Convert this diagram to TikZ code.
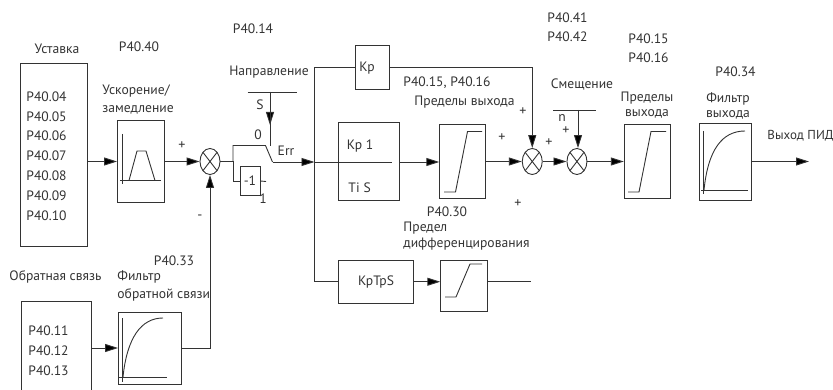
\documentclass[tikz,border=0pt]{standalone}
\usepackage{fontspec}
\setmainfont{PT Sans}
\usepackage{tikz}
\usetikzlibrary{positioning,arrows.meta,calc,shapes.geometric}
\usepackage{xcolor}

\begin{document}
\begin{tikzpicture}[
    x=1pt, y=-1pt, on grid, >={Stealth[length=13pt,width=8pt,inset=0pt,fill=black]},
    line width=0.9pt, color=black!80, font=\fontsize{13.6}{14}\selectfont,
    blockbox/.style={draw, minimum width=#1, inner sep=0pt},
    sumnode/.style={draw, ellipse, minimum width=20pt, minimum height=26pt, inner sep=0pt,
      path picture={
        \draw (path picture bounding box.north west) -- (path picture bounding box.south east);
        \draw (path picture bounding box.north east) -- (path picture bounding box.south west);}},
    lbl/.style={anchor=west, inner sep=0pt},
    lblc/.style={inner sep=0pt},
    sign/.style={inner sep=0pt, font=\fontsize{14}{14}\selectfont}]
  \useasboundingbox (0,0) rectangle (833,390);
  % main row
  \node[sumnode] (sum1) at (210,161.5) {};
  \node[blockbox=47pt, minimum height=82.5pt, left=69pt of sum1] (acc) {};
  \node[blockbox=67pt, minimum height=183pt, left=87pt of acc, yshift=7pt] (sp) {};
  \node[blockbox=61.5pt, minimum height=78pt, right=158.75pt of sum1] (pi) {};
  \node[blockbox=46pt, minimum height=73.5pt, right=94pt of pi] (lim1) {};
  \node[sumnode, right=69.5pt of lim1] (sum2) {};
  \node[sumnode, right=44.7pt of sum2] (sum3) {};
  \node[blockbox=46pt, minimum height=73.5pt, right=70.3pt of sum3] (lim2) {};
  \node[blockbox=52pt, minimum height=77pt, right=78.4pt of lim2] (outf) {};
  \node[blockbox=34pt, minimum height=44.5pt, above=94.25pt of pi, xshift=3.75pt] (kp) {};
  \node[blockbox=75pt, minimum height=43.5pt, below=120.25pt of pi, xshift=7.25pt] (kd) {KpTpS};
  \node[blockbox=46.5pt, minimum height=51pt, right=88pt of kd, yshift=-4pt] (lim3) {};
  \node[blockbox=20pt, minimum height=28.5pt] (neg) at (250,181) {-1};
  % feedback row
  \node[blockbox=62.5pt, minimum height=72pt] (fbf) at (149.75,348) {};
  \node[minimum width=69pt, minimum height=88pt, inner sep=0pt] (fb) at (56.5,346) {};
  \draw (fb.south west) |- (fb.north east) -- (fb.south east);
  % points on the wires
  \coordinate (swin) at (233,161.5);
  \coordinate (swtop) at (265.5,145.5);
  \coordinate (swout) at (272.5,162);
  \coordinate (negout) at (266,181.5);
  \coordinate (trunk) at (314.5,162);
  \coordinate (piend) at (392,162);
  \coordinate (sbarl) at (247.5,92);
  \coordinate (sbarr) at (297,92);
  \coordinate (sdrop) at (270,92);
  \coordinate (send) at (270,146);
  \coordinate (nbarl) at (553,110);
  \coordinate (nbarr) at (596,110);
  \coordinate (ndrop) at (578,110);
  \coordinate (kdout) at (531,281.5);
  \coordinate (pidout) at (809,161.5);
  % wires
  \draw[->] (acc.west -| sp.east) -- (acc.west);
  \draw[->] (acc) -- (sum1);
  \draw (sum1) -- (swin);
  \draw (swin) |- (swtop) -- (swout);
  \draw[->] (swout) -- (trunk);
  \draw (trunk) -- (piend);
  \draw (swin) |- (neg.west);
  \draw (neg.east) -- (negout);
  \draw[->] (pi.east |- trunk) -- (trunk -| lim1.west);
  \draw[->] (lim1) -- (sum2);
  \draw[->] (sum2) -- (sum3);
  \draw[->] (sum3) -- (lim2);
  \draw[->] (outf) -- (pidout);
  \draw (kp.west) -| (trunk) |- (kd.west);
  \draw[->] (kp.east) -| (sum2.north);
  \draw[->] (kd.east) -- (kd.east -| lim3.west);
  \draw (kd.east -| lim3.east) -- (kd.east -| kdout);
  \draw (sbarl) -- (sbarr);
  \draw[->] (sdrop) -- ++(0,33);
  \draw (sdrop) -- (send);
  \draw (nbarl) -- (nbarr);
  \draw[->] (ndrop) -- (ndrop |- sum3.north);
  \draw[->] (fbf.west -| fb.east) -- (fbf.west);
  \draw[->] (fbf.east) -| (sum1.south);
  % little graphs inside the boxes
  \draw (122,134) -- (122,184) (120,180.5) -- (161,180.5);
  \draw (129,180.5) -- (137,151) -- (146,151) -- (155,180.5);
  \draw (444,192) -- (455.5,192) -- (467.5,131.5) -- (482,131.5);
  \draw (628,192) -- (639,192) -- (651,131.5) -- (666,131.5);
  \draw (445,297) -- (456,297) -- (470,264) -- (482,264);
  \draw (703.5,131) -- (703.5,194) (701,190) -- (748,190);
  \draw (704,190) .. controls (708,150) and (722,131) .. (745,131);
  \draw (122.5,318) -- (122.5,382) (119,377.5) -- (167,377.5);
  \draw (123,377) .. controls (127,338) and (141,318) .. (163,318);
  % texts
  \node[lblc] (tsp) at (57,49) {Уставка};
  \node[lblc] (t4040) at (139,47) {P40.40};
  \node[lblc] (t4014) at (253,29) {P40.14};
  \node[lbl, align=left] (tlist) at (26,156) {P40.04\\[5.8pt]P40.05\\[5.8pt]P40.06\\[5.8pt]P40.07\\[5.8pt]P40.08\\[5.8pt]P40.09\\[5.8pt]P40.10};
  \node[lbl, align=left] (tacc) at (102,100) {Ускорение/\\[4pt]замедление};
  \node[lblc] (tdir) at (269,72) {Направление};
  \node[lblc] (ts) at (260,105) {S};
  \node[lblc] (t0) at (258,135) {0};
  \node[lblc] (t1) at (263,199) {1};
  \node[lblc] (terr) at (286,151) {Err};
  \node[lbl] (tkp) at (359,68) {Kp};
  \node[lbl] (tkp1) at (346.5,146) {Kp 1};
  \node[lbl] (tti) at (348,188) {Ti\hspace{4pt}S};
  \node[lbl] (t1516a) at (403,83) {P40.15, P40.16};
  \node[lbl] (tlim1) at (414,102) {Пределы выхода};
  \node[lblc] (t4030) at (447,212) {P40.30};
  \node[lbl, align=left] (tlim3) at (403,236) {Предел\\[1.5pt]дифференцирования};
  \node[lbl, align=left] (t4142) at (547,27.5) {P40.41\\[5pt]P40.42};
  \node[lbl, align=left] (t1516b) at (628,48.5) {P40.15\\[5pt]P40.16};
  \node[lblc] (t4034) at (735.5,72) {P40.34};
  \node[lblc] (tbias) at (582,85) {Смещение};
  \node[lblc] (tn) at (562,118) {n};
  \node[lblc, align=center] (tlim2) at (647,105.5) {Пределы\\[1pt]выхода};
  \node[lblc, align=center] (toutf) at (728,105.5) {Фильтр\\[1pt]выхода};
  \node[lbl, font=\fontsize{13}{14}\selectfont] (tout) at (767,136) {Выход ПИД};
  \node[lbl] (tfb) at (9,277) {Обратная связь};
  \node[lbl, align=left] (tfbf) at (117,286) {Фильтр\\[4pt]обратной связи};
  \node[lblc] (t4033) at (174,261) {P40.33};
  \node[lbl, align=left] (tfbl) at (28,350.5) {P40.11\\[5.8pt]P40.12\\[5.8pt]P40.13};
  % signs
  \node[sign] (p1) at (182,146) {+};
  \node[sign] (m1) at (200,217) {-};
  \node[sign] (p2) at (523,112) {+};
  \node[sign] (p3) at (502,138) {+};
  \node[sign] (p4) at (549,143) {+};
  \node[sign] (p5) at (566,131) {+};
  \node[sign] (p6) at (518,204) {+};
\end{tikzpicture}
\end{document}
